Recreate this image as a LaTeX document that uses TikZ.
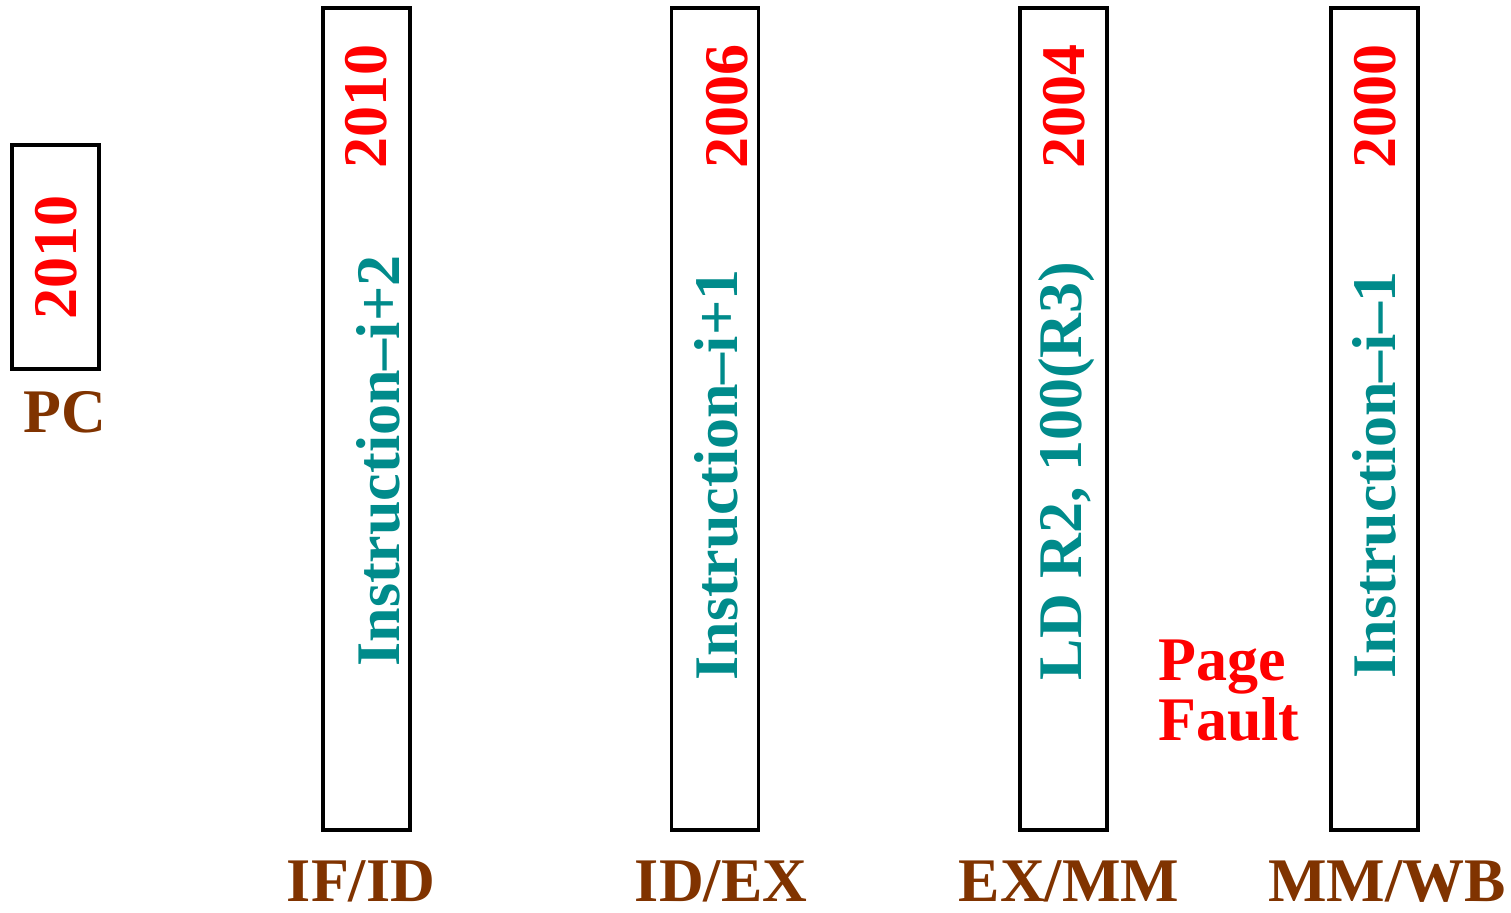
\documentclass[tikz,border=0pt]{standalone}
\usepackage{fontspec}
\setmainfont{Liberation Serif}
\definecolor{lblbrown}{RGB}{128,51,0}
\definecolor{instteal}{RGB}{0,139,139}
\definecolor{valred}{RGB}{255,0,0}
\begin{document}
\begin{tikzpicture}[x=1pt,y=-1pt,
  reg/.style={draw=black,line width=3.5pt,fill=white,rectangle,inner sep=0pt,minimum width=87pt},
  big/.style={font=\bfseries\fontsize{62}{66}\selectfont,inner sep=0pt},
  val/.style={big,text=valred,rotate=90,anchor=base},
  inst/.style={big,text=instteal,rotate=90,anchor=base},
  lbl/.style={big,text=lblbrown,anchor=base,text depth=0pt}]
\useasboundingbox (0,0) rectangle (1511,912);
% registers
\node[reg,minimum height=224pt] (pc) at (55.5,257) {};
\node[reg,minimum height=822pt] (ifid) at (366.5,419) {};
\node[reg,minimum height=822pt] (idex) at (715,419) {};
\node[reg,minimum height=822pt] (exmm) at (1063.5,419) {};
\node[reg,minimum height=822pt] (mmwb) at (1374.5,419) {};
% PC
\node[val] (pcv) at (76,257) {2010};
\node[lbl] (pcl) at (65,432) {PC};
% IF/ID
\node[val] (v1) at (386,107) {2010};
\node[inst] (i1) at (399,461) {Instruction–i+2};
\node[lbl] (l1) at (361,901) {IF/ID};
% ID/EX
\node[val] (v2) at (747,107) {2006};
\node[inst] (i2) at (737,475) {Instruction–i+1};
\node[lbl] (l2) at (721,901) {ID/EX};
% EX/MM
\node[val] (v3) at (1084,107) {2004};
\node[inst] (i3) at (1081,471) {LD R2, 100(R3)};
\node[lbl] (l3) at (1069,901) {EX/MM};
% MM/WB
\node[val] (v4) at (1395,107) {2000};
\node[inst] (i4) at (1395,475) {Instruction–i–1};
\node[lbl] (l4) at (1387,901) {MM/WB};
% page fault
\node[big,text=valred,anchor=base west] (pf1) at (1158,680) {Page};
\node[big,text=valred,anchor=base west] (pf2) at (1158,740) {Fault};
\end{tikzpicture}
\end{document}
